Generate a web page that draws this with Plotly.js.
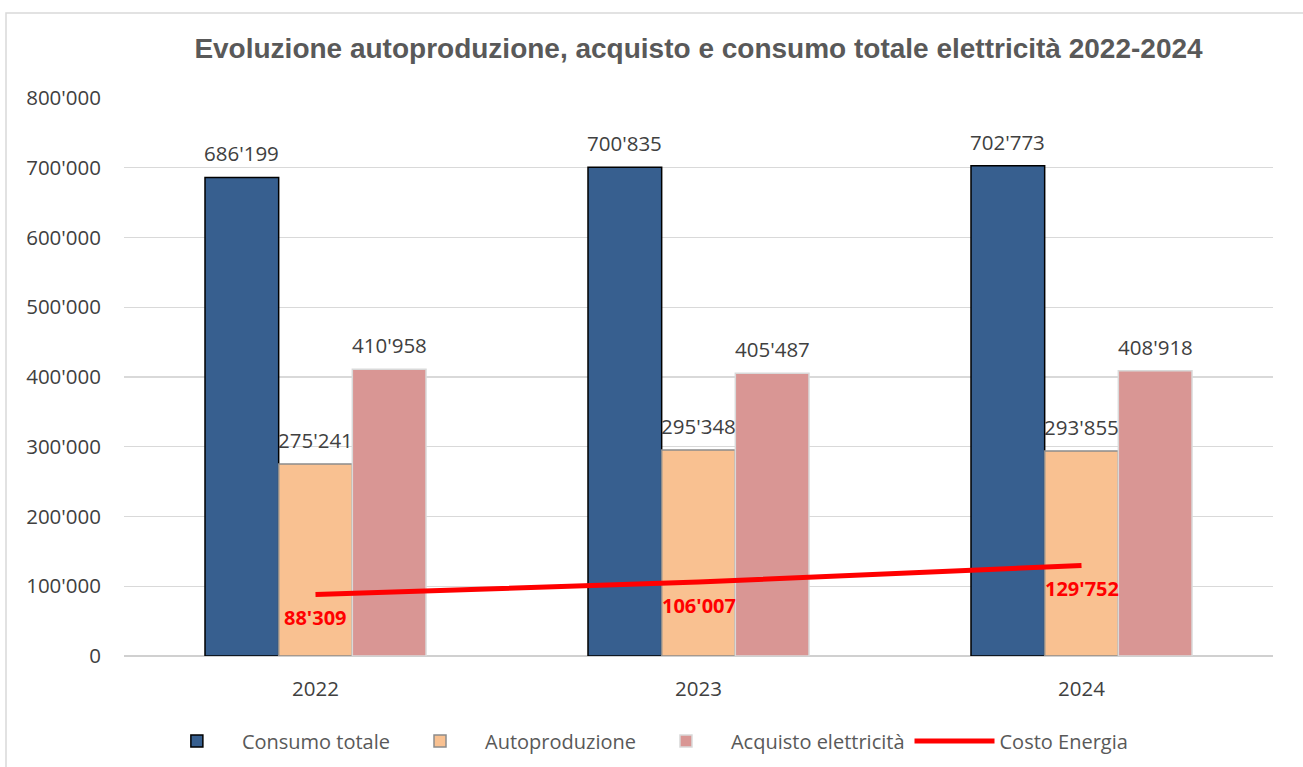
<!DOCTYPE html>
<html>
<head>
<meta charset="utf-8">
<script src="https://cdn.plot.ly/plotly-3.0.1.min.js"></script>
<style>html,body{margin:0;padding:0;background:#fff;}#chart{width:1303px;height:767px;}</style>
</head>
<body>
<div id="chart"></div>
<script>
const years = ['2022', '2023', '2024'];
const consumoTotale = [686199, 700835, 702773];
const autoproduzione = [275241, 295348, 293855];
const acquistoElettricita = [410958, 405487, 408918];
const costoEnergia = [88309, 106007, 129752];
const yTicks = [0, 100000, 200000, 300000, 400000, 500000, 600000, 700000, 800000];

const BARGAP = 0.423;
const labelFont = {family: 'Open Sans, sans-serif', size: 20.5, color: '#404040'};
const fmt = v => String(v).replace(/\B(?=(\d{3})+(?!\d))/g, "'");

const barSeries = [consumoTotale, autoproduzione, acquistoElettricita];
const barW = (1 - BARGAP) / barSeries.length;
const annotations = [];
barSeries.forEach((vals, j) => {
  vals.forEach((v, i) => {
    annotations.push({x: i + (j - (barSeries.length - 1) / 2) * barW, y: v, xref: 'x', yref: 'y',
      text: fmt(v), showarrow: false, yanchor: 'bottom', yshift: 8, font: labelFont});
  });
});
costoEnergia.forEach((v, i) => {
  annotations.push({x: i, y: v, xref: 'x', yref: 'y', text: '<b>' + fmt(v) + '</b>', showarrow: false,
    yanchor: 'middle', yshift: -23, font: {family: 'Open Sans, sans-serif', size: 20, color: '#FF0000'}});
});

const traces = [
  {type: 'bar', name: 'Consumo totale', x: years, y: consumoTotale,
   marker: {color: '#375F8F', line: {color: '#000000', width: 1.5}}},
  {type: 'bar', name: 'Autoproduzione', x: years, y: autoproduzione,
   marker: {color: '#F9C191', line: {color: '#8c8c8c', width: 1.5}}},
  {type: 'bar', name: 'Acquisto elettricità', x: years, y: acquistoElettricita,
   marker: {color: '#D99694', line: {color: '#d9d9d9', width: 1.5}}},
  {type: 'scatter', mode: 'lines', name: 'Costo Energia', x: years, y: costoEnergia,
   line: {color: '#FF0000', width: 5}}
];

const layout = {
  width: 1303, height: 767,
  separators: ".'",
  paper_bgcolor: '#ffffff', plot_bgcolor: '#ffffff',
  margin: {l: 124, r: 30, t: 98, b: 111},
  barmode: 'group', bargap: BARGAP, bargroupgap: 0,
  title: {text: 'Evoluzione autoproduzione, acquisto e consumo totale elettricità 2022-2024',
          font: {family: 'Liberation Sans, Arial, sans-serif', size: 28, color: '#595959', weight: 'bold'},
          x: 0.5, xref: 'paper', xanchor: 'center', y: 0.937, yref: 'container', yanchor: 'middle'},
  xaxis: {type: 'category', tickfont: labelFont, showgrid: false, showline: false, ticks: '', zeroline: false,
          ticklabelstandoff: 18, automargin: false},
  yaxis: {range: [0, 800000], tickvals: yTicks, tickformat: ',', tickfont: labelFont, automargin: false,
          showgrid: true, gridcolor: '#d9d9d9', gridwidth: 1.3, zeroline: true, zerolinecolor: '#d0d0d0', zerolinewidth: 1.5,
          showline: false, ticks: '', ticklabelstandoff: 22},
  showlegend: true,
  legend: {orientation: 'h', x: 0.493, xanchor: 'center', xref: 'container', y: 0.034, yref: 'container', yanchor: 'middle',
           font: {family: 'Open Sans, sans-serif', size: 20, color: '#595959'}, itemwidth: 80, traceorder: 'normal'},
  annotations: annotations,
  shapes: [{type: 'rect', xref: 'paper', yref: 'paper', x0: -0.1027, x1: 1.03, y0: -0.21, y1: 1.1523,
            line: {color: '#d9d9d9', width: 1.5}, fillcolor: 'rgba(0,0,0,0)', layer: 'below'}]
};

Plotly.newPlot('chart', traces, layout, {displayModeBar: false, staticPlot: true});
</script>
</body>
</html>
